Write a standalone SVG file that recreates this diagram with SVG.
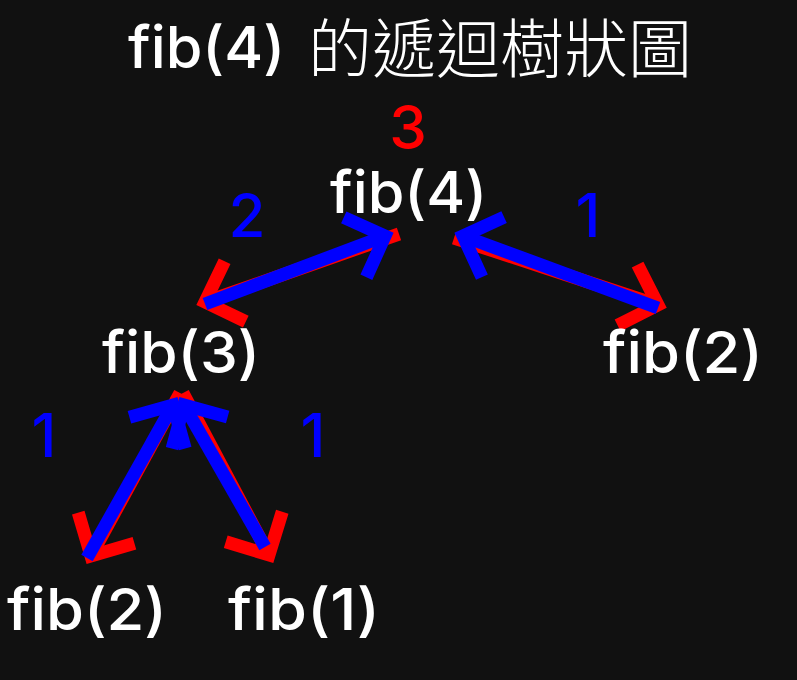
<svg xmlns="http://www.w3.org/2000/svg" width="797" height="680" viewBox="0 0 797 680">
<defs>
<style>
.t{font-family:Inter,"Open Sans","Noto Sans",sans-serif;font-weight:500;fill:#ffffff;font-size:58px}
.cjk{font-family:"Noto Sans CJK TC","Noto Sans CJK SC",sans-serif;font-weight:300;fill:#ffffff;font-size:64px}
.n{font-family:Inter,"Open Sans","Noto Sans",sans-serif;font-weight:500;font-size:60px;text-anchor:middle}
.red{fill:#ff0000}
.blue{fill:#0000ff}
.lr{stroke:#ff0000;stroke-width:13;fill:none;marker-end:url(#ar)}
.lb{stroke:#0000ff;stroke-width:13;fill:none;marker-end:url(#ab)}
</style>
<marker id="ar" markerUnits="userSpaceOnUse" orient="auto" viewBox="-45 -45 65 90" refX="0" refY="0" markerWidth="65" markerHeight="90">
<path d="M-32,-32 L0,0 L-32,32" fill="none" stroke="#ff0000" stroke-width="13" stroke-linejoin="miter"/>
</marker>
<marker id="ab" markerUnits="userSpaceOnUse" orient="auto" viewBox="-45 -45 65 90" refX="0" refY="0" markerWidth="65" markerHeight="90">
<path d="M-32,-32 L0,0 L-32,32" fill="none" stroke="#0000ff" stroke-width="13" stroke-linejoin="miter"/>
</marker>
</defs>
<rect width="797" height="680" fill="#111111"/>
<g id="title">
<text class="t" x="128" y="68" textLength="157" lengthAdjust="spacingAndGlyphs">fib(4)</text>
<text class="cjk" x="308" y="72">的遞迴樹狀圖</text>
</g>
<g id="connectors">
<line class="lr" x1="399" y1="234" x2="205" y2="302"/>
<line class="lr" x1="454" y1="238" x2="658" y2="305"/>
<line class="lr" x1="180" y1="393" x2="91" y2="556"/>
<line class="lr" x1="183" y1="393" x2="269" y2="555"/>
<line class="lb" x1="205" y1="304" x2="385" y2="236"/>
<line class="lb" x1="658" y1="308" x2="463" y2="236"/>
<line class="lb" x1="87" y1="558" x2="173" y2="405"/>
<line class="lb" x1="265" y1="547" x2="184" y2="405"/>
</g>
<g id="node-fib4"><text class="t" x="330" y="213" textLength="157" lengthAdjust="spacingAndGlyphs">fib(4)</text></g>
<g id="node-fib3"><text class="t" x="102" y="373" textLength="158" lengthAdjust="spacingAndGlyphs">fib(3)</text></g>
<g id="node-fib2-right"><text class="t" x="603" y="373" textLength="160" lengthAdjust="spacingAndGlyphs">fib(2)</text></g>
<g id="node-fib2-left"><text class="t" x="7" y="630" textLength="160" lengthAdjust="spacingAndGlyphs">fib(2)</text></g>
<g id="node-fib1"><text class="t" x="228" y="630" textLength="152" lengthAdjust="spacingAndGlyphs">fib(1)</text></g>
<g id="labels">
<text class="n red" x="408" y="149">3</text>
<text class="n blue" x="247" y="237">2</text>
<text class="n blue" x="588" y="237">1</text>
<text class="n blue" x="44" y="457">1</text>
<text class="n blue" x="313" y="457">1</text>
</g>
</svg>
